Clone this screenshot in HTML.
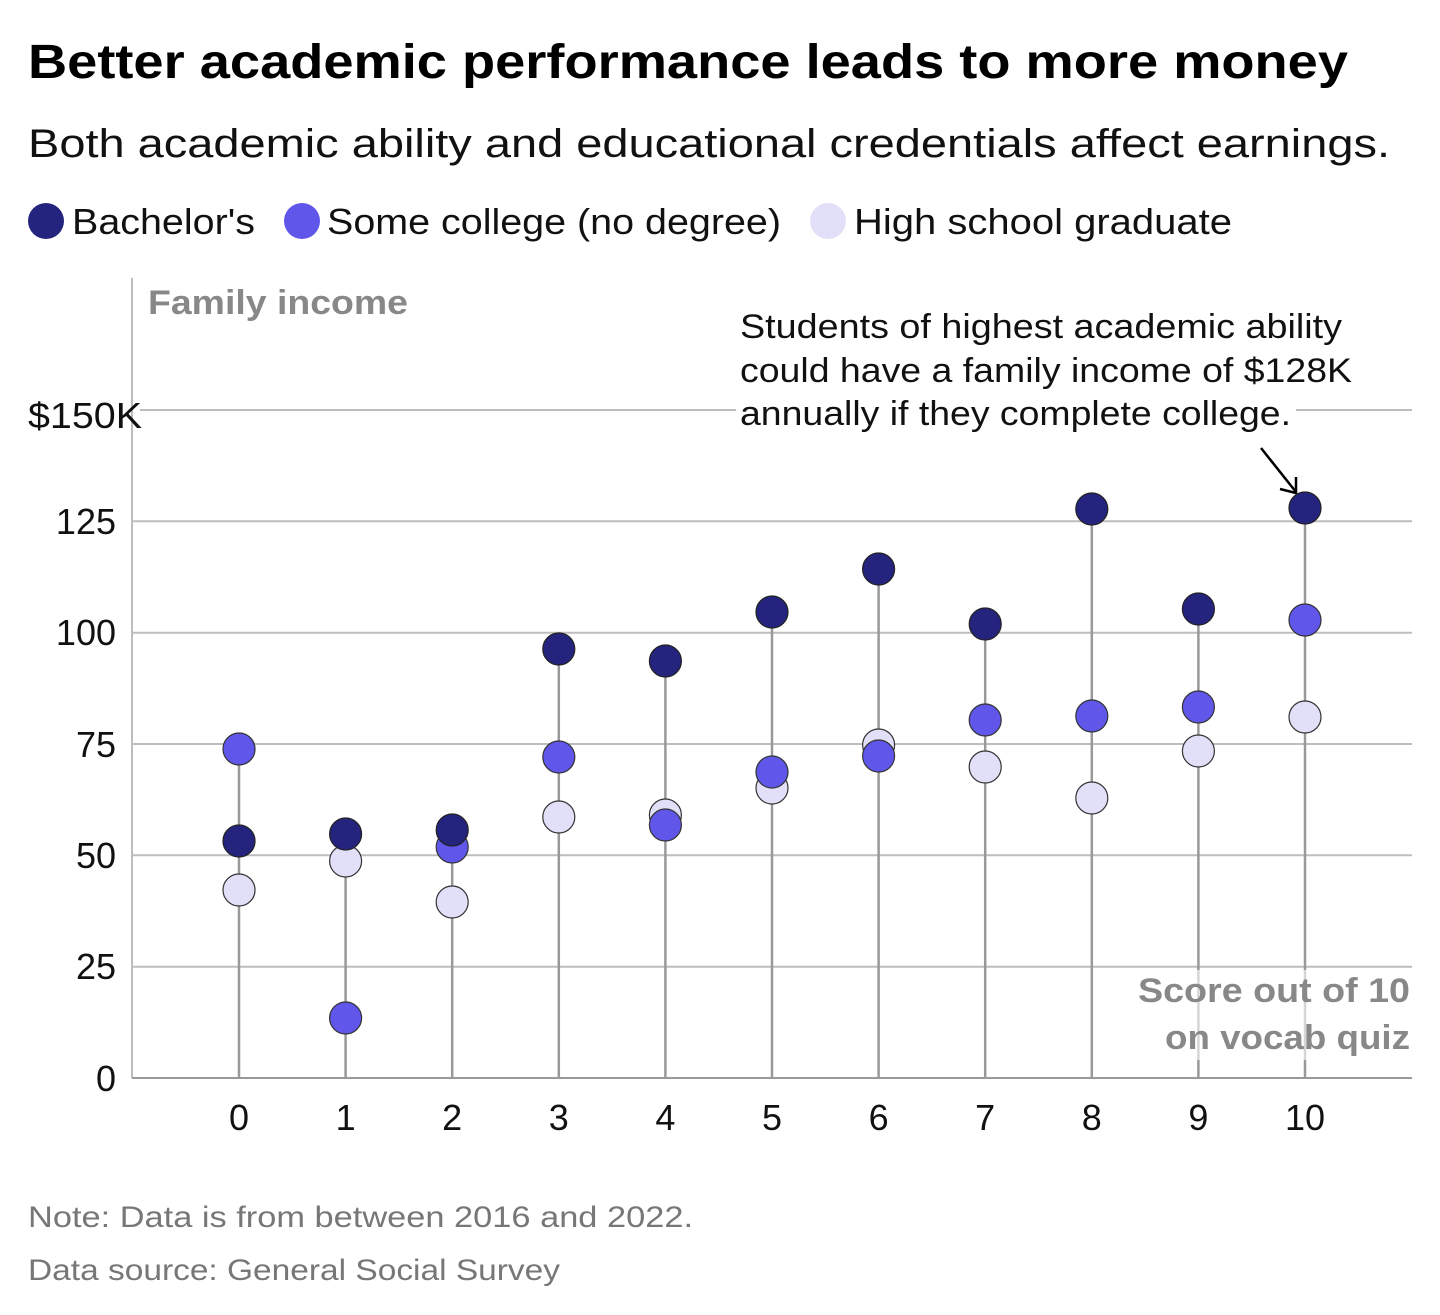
<!DOCTYPE html>
<html><head><meta charset="utf-8"><style>
html,body{margin:0;padding:0;background:#fff;}
svg{display:block;font-family:"Liberation Sans",Arial,sans-serif;}
</style></head><body>
<svg width="1440" height="1315" viewBox="0 0 1440 1315" xmlns="http://www.w3.org/2000/svg">
<text x="28" y="78" font-size="48" font-weight="bold" fill="#000" textLength="1320" lengthAdjust="spacingAndGlyphs">Better academic performance leads to more money</text>
<text x="28" y="157" font-size="40" fill="#111" textLength="1362" lengthAdjust="spacingAndGlyphs">Both academic ability and educational credentials affect earnings.</text>
<circle cx="46" cy="221" r="18" fill="#24247f"/>
<text x="72" y="234" font-size="36" fill="#111" textLength="183" lengthAdjust="spacingAndGlyphs">Bachelor's</text>
<circle cx="302" cy="221" r="18" fill="#6057ea"/>
<text x="327" y="234" font-size="36" fill="#111" textLength="454" lengthAdjust="spacingAndGlyphs">Some college (no degree)</text>
<circle cx="828" cy="221" r="18" fill="#e2e0f8"/>
<text x="854" y="234" font-size="36" fill="#111" textLength="378" lengthAdjust="spacingAndGlyphs">High school graduate</text>

<g stroke="#bdbdbd" stroke-width="2">
<line x1="140" y1="410" x2="1412" y2="410"/>
<line x1="132" y1="521.3" x2="1412" y2="521.3"/>
<line x1="132" y1="632.7" x2="1412" y2="632.7"/>
<line x1="132" y1="744" x2="1412" y2="744"/>
<line x1="132" y1="855.3" x2="1412" y2="855.3"/>
<line x1="132" y1="966.7" x2="1412" y2="966.7"/>
<line x1="132" y1="278" x2="132" y2="1078"/>
</g>
<line x1="132" y1="1078" x2="1412" y2="1078" stroke="#999" stroke-width="2"/>
<g font-size="36" fill="#111" text-anchor="end">
<text x="142" y="428" textLength="114" lengthAdjust="spacingAndGlyphs">$150K</text>
<text x="116" y="534">125</text>
<text x="116" y="645">100</text>
<text x="116" y="757">75</text>
<text x="116" y="868">50</text>
<text x="116" y="979">25</text>
<text x="116" y="1091">0</text>
</g>
<text x="148" y="314" font-size="34" font-weight="bold" fill="#888" textLength="260" lengthAdjust="spacingAndGlyphs">Family income</text>
<rect x="736" y="395" width="560" height="30" fill="#fff"/>
<g font-size="34" fill="#111">
<text x="740" y="338" textLength="602" lengthAdjust="spacingAndGlyphs">Students of highest academic ability</text>
<text x="740" y="382" textLength="612" lengthAdjust="spacingAndGlyphs">could have a family income of $128K</text>
<text x="740" y="425" textLength="551" lengthAdjust="spacingAndGlyphs">annually if they complete college.</text>
</g>
<g stroke="#000" stroke-width="2.5" fill="none">
<line x1="1261" y1="448" x2="1296" y2="492"/>
<polyline points="1280,489 1296,493 1296,477"/>
</g>
<g stroke="#999" stroke-width="2.5">
<line x1="239" y1="749" x2="239" y2="1078"/>
<line x1="345.6" y1="834" x2="345.6" y2="1078"/>
<line x1="452.2" y1="830" x2="452.2" y2="1078"/>
<line x1="558.8" y1="649" x2="558.8" y2="1078"/>
<line x1="665.4" y1="661" x2="665.4" y2="1078"/>
<line x1="772" y1="612" x2="772" y2="1078"/>
<line x1="878.6" y1="569" x2="878.6" y2="1078"/>
<line x1="985.2" y1="624" x2="985.2" y2="1078"/>
<line x1="1091.8" y1="509" x2="1091.8" y2="1078"/>
<line x1="1198.4" y1="609" x2="1198.4" y2="1078"/>
<line x1="1305" y1="508" x2="1305" y2="1078"/>
</g>
<g text-anchor="end" font-size="34" font-weight="bold" fill="#888">
<rect x="1136" y="970" width="276" height="90" fill="#fff" opacity="0.6" stroke="none"/>
<text x="1410" y="1002" textLength="272" lengthAdjust="spacingAndGlyphs">Score out of 10</text>
<text x="1410" y="1049" textLength="245" lengthAdjust="spacingAndGlyphs">on vocab quiz</text>
</g>
<g stroke="#333" stroke-width="1.2" fill="#e2e0f8">
<circle cx="239" cy="890" r="16"/><circle cx="345.6" cy="861" r="16"/><circle cx="452.2" cy="902" r="16"/><circle cx="558.8" cy="817" r="16"/><circle cx="665.4" cy="815" r="16"/><circle cx="772" cy="788" r="16"/><circle cx="878.6" cy="745" r="16"/><circle cx="985.2" cy="767" r="16"/><circle cx="1091.8" cy="798" r="16"/><circle cx="1198.4" cy="751" r="16"/><circle cx="1305" cy="717" r="16"/>
</g>
<g stroke="#333" stroke-width="1.2" fill="#6057ea">
<circle cx="239" cy="749" r="16"/><circle cx="345.6" cy="1018" r="16"/><circle cx="452.2" cy="847" r="16"/><circle cx="558.8" cy="757" r="16"/><circle cx="665.4" cy="825" r="16"/><circle cx="772" cy="772" r="16"/><circle cx="878.6" cy="756" r="16"/><circle cx="985.2" cy="720" r="16"/><circle cx="1091.8" cy="716" r="16"/><circle cx="1198.4" cy="707" r="16"/><circle cx="1305" cy="620" r="16"/>
</g>
<g stroke="#222" stroke-width="1.2" fill="#24247f">
<circle cx="239" cy="841" r="16"/><circle cx="345.6" cy="834" r="16"/><circle cx="452.2" cy="830" r="16"/><circle cx="558.8" cy="649" r="16"/><circle cx="665.4" cy="661" r="16"/><circle cx="772" cy="612" r="16"/><circle cx="878.6" cy="569" r="16"/><circle cx="985.2" cy="624" r="16"/><circle cx="1091.8" cy="509" r="16"/><circle cx="1198.4" cy="609" r="16"/><circle cx="1305" cy="508" r="16"/>
</g>
<g font-size="36" fill="#111" text-anchor="middle">
<text x="239" y="1130">0</text><text x="345.6" y="1130">1</text><text x="452.2" y="1130">2</text><text x="558.8" y="1130">3</text><text x="665.4" y="1130">4</text><text x="772" y="1130">5</text><text x="878.6" y="1130">6</text><text x="985.2" y="1130">7</text><text x="1091.8" y="1130">8</text><text x="1198.4" y="1130">9</text><text x="1305" y="1130">10</text>
</g>
<text x="28" y="1227" font-size="30" fill="#777" textLength="665" lengthAdjust="spacingAndGlyphs">Note: Data is from between 2016 and 2022.</text>
<text x="28" y="1280" font-size="30" fill="#777" textLength="532" lengthAdjust="spacingAndGlyphs">Data source: General Social Survey</text>
</svg>
</body></html>
